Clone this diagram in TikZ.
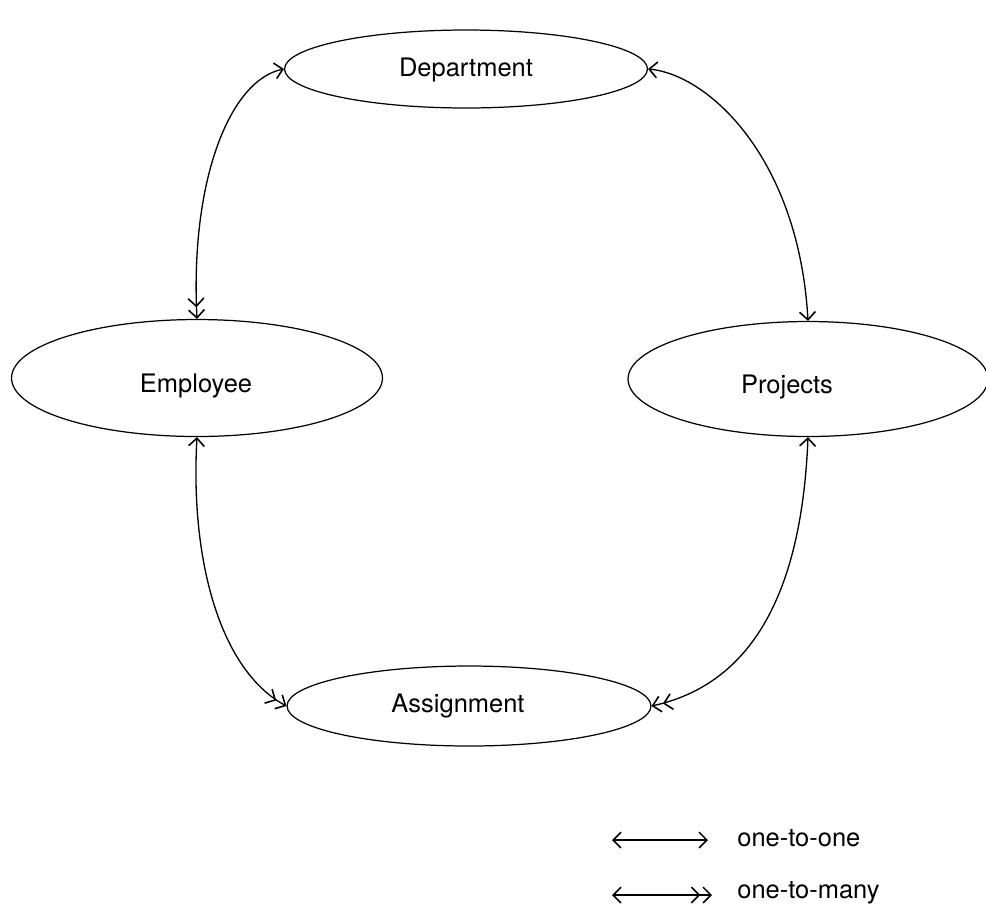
\documentclass[tikz,border=0pt]{standalone}
\usepackage{fontspec}
\setmainfont{TeX Gyre Heros}
\usetikzlibrary{arrows.meta,shapes.geometric}
\begin{document}
\begin{tikzpicture}[x=0.02cm,y=-0.02cm,
  ent/.style={draw,ellipse,line width=0.7pt,inner sep=0pt},
  txt/.style={font=\fontsize{14.5}{17}\selectfont,inner sep=0pt},
  lbl/.style={font=\fontsize{14.5}{17}\selectfont,anchor=west,inner sep=0pt},
  one/.tip={Straight Barb[length=4.5pt,width=9pt,line width=0.9pt]},
  many/.tip={Straight Barb[length=4.5pt,width=9pt,line width=0.9pt,sep=1pt] Straight Barb[length=4.5pt,width=9pt,line width=0.9pt]},
  rel/.style={line width=0.75pt}]
\useasboundingbox (0,0) rectangle (986,917);
\node[ent,minimum width=7.26cm,minimum height=1.56cm] (dep) at (466,69) {};
\node[ent,minimum width=7.42cm,minimum height=2.34cm] (emp) at (197,378) {};
\node[ent,minimum width=7.2cm,minimum height=2.3cm] (pro) at (808,379) {};
\node[ent,minimum width=7.28cm,minimum height=1.6cm] (asg) at (469,706) {};
\node[txt] (tdep) at (466,70) {Department};
\node[txt] (temp) at (196,386) {Employee};
\node[txt] (tpro) at (787,387) {Projects};
\node[txt] (tasg) at (458,706) {Assignment};
\draw[rel,{one}-{many}] (dep.west) .. controls (230,80) and (190,180) .. (emp.north);
\draw[rel,{one}-{one}] (dep.east) .. controls (710,75) and (799,160) .. (pro.north);
\draw[rel,{one}-{many}] (emp.south) .. controls (190,560) and (220,670) .. (asg.west);
\draw[rel,{one}-{many}] (pro.south) .. controls (803,560) and (770,680) .. (asg.east);
\coordinate (l1a) at (612,840);
\coordinate (l1b) at (708,840);
\coordinate (l2a) at (612,895);
\coordinate (l2b) at (712,895);
\draw[rel,{one}-{one}] (l1a) -- (l1b);
\draw[rel,{one}-{many}] (l2a) -- (l2b);
\node[lbl] (t1) at (737,838) {one-to-one};
\node[lbl] (t2) at (737,893) {one-to-many};
\end{tikzpicture}
\end{document}
